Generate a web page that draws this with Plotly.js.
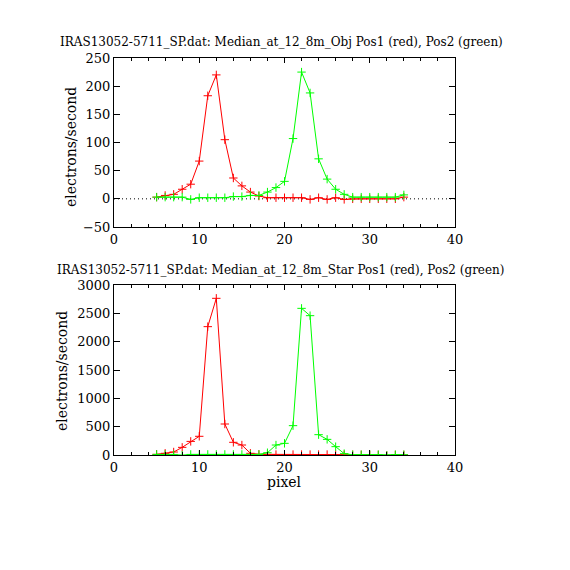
<!DOCTYPE html>
<html>
<head>
<meta charset="utf-8">
<script src="https://cdn.plot.ly/plotly-3.0.1.min.js"></script>
<style>html,body{margin:0;padding:0;background:#fff;}#chart{width:570px;height:570px;}</style>
</head>
<body>
<div id="chart"></div>
<script>
// ---- data ----
const pixels = [5,6,7,8,9,10,11,12,13,14,15,16,17,18,19,20,21,22,23,24,25,26,27,28,29,30,31,32,33,34];

const objPos1 = [3,6,8,17,26,67,183,220,105,37,23,12,5,2,2,2,2,2,-1,2,-1,2,-1,0,0,0,0,0,0,3];
const objPos2 = [3,3,3,3,-1,2,2,2,2,4,4,6,6,12,20,31,107,225,188,71,35,17,8,3,3,3,3,3,3,7];

const starPos1 = [12,30,53,135,240,330,2265,2765,547,224,176,30,12,10,8,8,8,8,8,8,8,8,5,5,5,5,3,-8,2,2];
const starPos2 = [10,10,10,-5,10,10,10,10,10,10,10,10,10,40,176,206,518,2588,2459,359,276,147,24,5,5,5,5,-8,5,5];

const xRange = [0, 40];
const topRange = [-50, 250];
const botRange = [0, 3000];

const topTitle = "IRAS13052-5711_SP.dat: Median_at_12_8m_Obj Pos1 (red), Pos2 (green)";
const botTitle = "IRAS13052-5711_SP.dat: Median_at_12_8m_Star Pos1 (red), Pos2 (green)";
const yTitle = "electrons/second";
const xTitle = "pixel";

// ---- styling ----
const W = 570, H = 570;
const FONT = "DejaVu Serif";
function mk(x, y, color, xa, ya) {
  return {
    x: x, y: y, xaxis: xa, yaxis: ya, type: 'scatter', mode: 'lines+markers',
    line: {color: color, width: 1},
    marker: {symbol: 'cross-thin-open', size: 6, color: color, line: {color: color, width: 1}},
    hoverinfo: 'skip'
  };
}
const traces = [
  mk(pixels, objPos1, '#ff0000', 'x', 'y'),
  mk(pixels, objPos2, '#00ff00', 'x', 'y'),
  mk(pixels, starPos1, '#ff0000', 'x2', 'y2'),
  mk(pixels, starPos2, '#00ff00', 'x2', 'y2')
];

const tickfont = {family: FONT, size: 13, color: '#000'};
function xax(anchor) {
  return {
    domain: [114 / W, 455 / W], anchor: anchor, range: xRange, dtick: 10, tick0: 0,
    ticks: 'inside', ticklen: 5, tickwidth: 1, tickcolor: '#000',
    minor: {ticks: 'inside', dtick: 2, ticklen: 3, tickcolor: '#000', tickwidth: 1, showgrid: false},
    showline: true, linecolor: '#000', linewidth: 1, mirror: 'ticks',
    showgrid: false, zeroline: false, tickfont: tickfont, fixedrange: true
  };
}
function yax(anchor, dom, range, dtick) {
  return {
    domain: dom, anchor: anchor, range: range, dtick: dtick,
    ticks: 'inside', ticklen: 6, tickwidth: 1, tickcolor: '#000',
    showline: true, linecolor: '#000', linewidth: 1, mirror: 'ticks',
    showgrid: false, zeroline: false, tickfont: tickfont, fixedrange: true
  };
}

const layout = {
  width: W, height: H,
  margin: {l: 0, r: 0, t: 0, b: 0, pad: 0},
  paper_bgcolor: '#fff', plot_bgcolor: '#fff',
  showlegend: false,
  xaxis: xax('y'),
  yaxis: yax('x', [1 - 227 / H, 1 - 58 / H], topRange, 50),
  xaxis2: xax('y2'),
  yaxis2: yax('x2', [1 - 455 / H, 1 - 285 / H], botRange, 500),
  shapes: [{
    type: 'line', xref: 'x domain', yref: 'y', x0: 0, x1: 1, y0: 0, y1: 0,
    line: {color: '#000', width: 1, dash: '1px,3px'}, layer: 'below'
  }],
  annotations: [
    {text: topTitle, xref: 'paper', yref: 'paper', x: 281 / W, y: 1 - 42 / H, xanchor: 'center', yanchor: 'middle', showarrow: false, font: {family: FONT, size: 12, color: '#000'}},
    {text: botTitle, xref: 'paper', yref: 'paper', x: 281 / W, y: 1 - 270 / H, xanchor: 'center', yanchor: 'middle', showarrow: false, font: {family: FONT, size: 12, color: '#000'}},
    {text: yTitle, xref: 'paper', yref: 'paper', x: 71 / W, y: 1 - 147 / H, xanchor: 'center', yanchor: 'middle', textangle: -90, showarrow: false, font: {family: FONT, size: 14, color: '#000'}},
    {text: yTitle, xref: 'paper', yref: 'paper', x: 62 / W, y: 1 - 371 / H, xanchor: 'center', yanchor: 'middle', textangle: -90, showarrow: false, font: {family: FONT, size: 14, color: '#000'}},
    {text: xTitle, xref: 'paper', yref: 'paper', x: 284 / W, y: 1 - 482 / H, xanchor: 'center', yanchor: 'middle', showarrow: false, font: {family: FONT, size: 14, color: '#000'}}
  ]
};

Plotly.newPlot('chart', traces, layout, {displayModeBar: false, staticPlot: true});
</script>
</body>
</html>
